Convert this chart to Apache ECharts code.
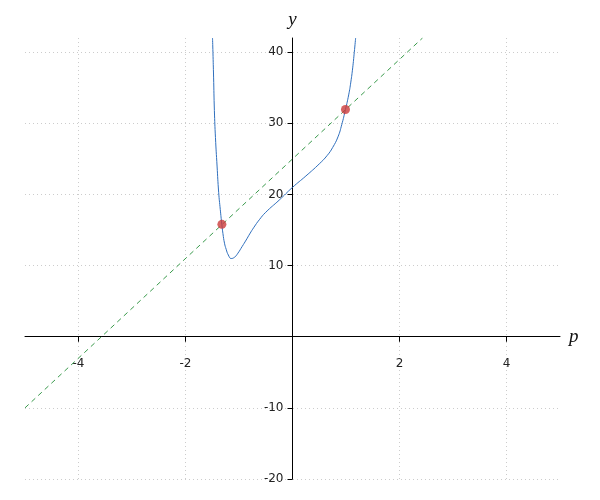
<!DOCTYPE html>
<html>
<head>
<meta charset="utf-8">
<script src="https://cdn.jsdelivr.net/npm/echarts@6/dist/echarts.min.js"></script>
<style>html,body{margin:0;padding:0;background:#fff}#c{width:600px;height:500px}</style>
</head>
<body>
<div id="c"></div>
<script>
// Curve
const curveX = [-1.495, -1.487, -1.475, -1.46, -1.44, -1.41, -1.38, -1.35, -1.321, -1.30, -1.271, -1.24, -1.20, -1.146, -1.08, -1.02, -0.94, -0.866, -0.80, -0.72, -0.62, -0.5, -0.25, 0, 0.25, 0.5, 0.65, 0.75, 0.85, 0.92, 0.99, 1.05, 1.09, 1.125, 1.155, 1.18];
const curveY = [42, 40, 36.5, 31.8, 28, 24, 20.3, 17.9, 15.8, 14.5, 13.15, 12.3, 11.5, 11.0, 11.2, 11.75, 12.7, 13.6, 14.45, 15.4, 16.45, 17.5, 19.2, 21.0, 22.6, 24.3, 25.5, 26.6, 28.1, 29.8, 31.95, 34.0, 35.8, 37.8, 40.0, 42];
// Dashed line endpoints
const lineX = [-5, 2.43];
const lineY = [-10, 42];
// Marked points
const ptX = [-1.32, 0.99];
const ptY = [15.8, 31.95];
// Ticks
const xTicks = [-4, -2, 2, 4];
const yTicks = [-20, -10, 10, 20, 30, 40];

const X_MIN = -5, X_MAX = 5, Y_MIN = -20, Y_MAX = 42;
const G = {left: 25, right: 40, top: 38, bottom: 21};
const W = 600 - G.left - G.right, H = 500 - G.top - G.bottom;
// shift axes so they cross at the origin
const xOff = -H * (0 - Y_MIN) / (Y_MAX - Y_MIN);
const yOff = -W * (0 - X_MIN) / (X_MAX - X_MIN);

const zip = (a, b) => a.map((v, i) => [v, b[i]]);
const chart = echarts.init(document.getElementById('c'), null, {renderer: 'canvas'});
const labelFont = {fontFamily: 'DejaVu Sans', fontSize: 12, color: '#222'};
const nameFont = {fontFamily: 'Liberation Serif', fontStyle: 'italic', fontSize: 19, color: '#111'};
chart.setOption({
  animation: false,
  backgroundColor: '#fff',
  grid: Object.assign({containLabel: false, outerBoundsMode: 'none'}, G),
  xAxis: {
    type: 'value', min: X_MIN, max: X_MAX, position: 'bottom', offset: xOff,
    name: 'p', nameLocation: 'end', nameGap: 9,
    nameTextStyle: Object.assign({verticalAlign: 'middle'}, nameFont),
    axisLine: {onZero: false, lineStyle: {color: '#000', width: 1}},
    axisTick: {show: true, length: 5, customValues: xTicks, lineStyle: {color: '#000'}},
    axisLabel: Object.assign({customValues: xTicks, margin: 21}, labelFont),
    splitLine: {show: true, lineStyle: {color: '#cccccc', type: [1, 3], width: 1}}
  },
  yAxis: {
    type: 'value', min: Y_MIN, max: Y_MAX, position: 'left', offset: yOff,
    name: 'y', nameLocation: 'end', nameGap: 9,
    nameTextStyle: Object.assign({align: 'center'}, nameFont),
    axisLine: {onZero: false, lineStyle: {color: '#000', width: 1}},
    axisTick: {show: true, length: 5, customValues: yTicks, lineStyle: {color: '#000'}},
    axisLabel: Object.assign({customValues: yTicks, margin: 9}, labelFont),
    splitLine: {show: true, lineStyle: {color: '#cccccc', type: [1, 3], width: 1}}
  },
  series: [
    {
      type: 'line', data: zip(lineX, lineY), showSymbol: false, silent: true,
      lineStyle: {color: '#3a9a4c', width: 1, type: [5, 4]}, z: 2
    },
    {
      type: 'line', data: zip(curveX, curveY), showSymbol: false, smooth: 0.5, silent: true,
      lineStyle: {color: '#2f6fbd', width: 1}, z: 3
    },
    {
      type: 'scatter', data: zip(ptX, ptY), symbolSize: 9, silent: true,
      itemStyle: {color: '#cc3b3b'}, z: 4
    }
  ]
});
</script>
</body>
</html>
